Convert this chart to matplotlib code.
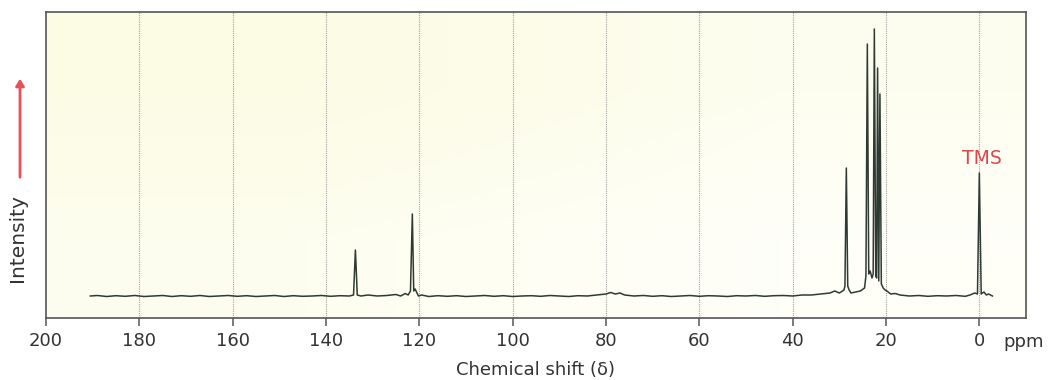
import matplotlib
matplotlib.use("Agg")
import matplotlib.pyplot as plt
import numpy as np

# 13C NMR spectrum (intensity in arbitrary units)
ppm = [190.5, 189, 187, 185, 183, 181, 179, 177, 175, 173, 171, 169, 167, 165,
       163, 161, 159, 157, 155, 153, 151, 149, 147, 145, 143, 141, 139, 137,
       135, 134.1, 133.7, 133.3, 132.5, 131, 129, 127, 125, 124, 123, 122.4,
       121.9, 121.5, 121.2, 120.9, 120.6, 120.2, 119.5, 118, 116, 114, 112,
       110, 108, 106, 104, 102, 100, 98, 96, 94, 92, 90, 88, 86, 84, 82, 80,
       79, 78, 77, 76, 74, 72, 70, 68, 66, 64, 62, 60, 58, 56, 54, 52, 50, 48,
       46, 44, 42, 40, 38, 36, 34, 32, 31, 30, 29, 28.8, 28.5, 28.2, 27.9,
       27.5, 26.5, 25.5, 24.6, 24.3, 24.0, 23.7, 23.4, 23.0, 22.75, 22.5,
       22.2, 22.0, 21.8, 21.55, 21.3, 21.0, 20.6, 20.2, 19.8, 19, 18, 17, 15,
       13, 11, 9, 7, 5, 3, 2, 1, 0.4, 0, -0.4, -1, -1.5, -2, -2.8]
intensity = [0, 0.5, -0.5, 0.3, -0.3, 0.5, -0.5, 0, 0.5, -0.5, 0.3, -0.3, 0.5, -0.5,
             0, 0.5, -0.3, 0.3, -0.5, 0, 0.5, -0.5, 0.3, -0.3, 0, 0.5, -0.3, 0.3,
             0, 1, 46, 1, 0, 1, 0, 0.5, 1.5, 0, 2.5, 1,
             5, 82, 5, 7, 4, 0, 1, -0.5, 0.3, -0.3, 0.3,
             -0.5, 0, 0.5, -0.3, 0.3, -0.5, 0, 0.3, -0.3, 0.5, 0, -0.5, 0.3, 0, 1, 2,
             3.5, 2, 3, 1, 0, 0.5, -0.3, 0.3, -0.5, 0, 0.5, -0.3, 0.3, 0, -0.5, 0.3, 0, 0.5,
             -0.3, 0.3, 0.5, 0, 1, 1, 2, 3, 5, 3, 6, 10, 128, 10, 6,
             3, 4, 5, 8, 20, 252, 22, 25, 18, 22, 267,
             20, 18, 228, 15, 202, 12, 8, 6, 5, 2, 2.5, 1, 0,
             0.5, -0.3, 0.3, 0, 0.5, -0.3, 1, 3, 2, 123, 2, 4, 1, 2, 0]

xticks = [200, 180, 160, 140, 120, 100, 80, 60, 40, 20, 0]
grid_at = [180, 160, 140, 120, 100, 80, 60, 40, 20, 0]

fig = plt.figure(figsize=(10.5, 3.8), dpi=100, facecolor="white")
ax = fig.add_axes([46 / 1050, 62 / 380, 980 / 1050, 306 / 380])

# pale cream wash fading toward white
grad = np.array([[[0.99, 0.985, 0.895], [0.995, 0.995, 0.94]],
                 [[0.995, 0.995, 0.94], [1.0, 1.0, 0.975]]])
ax.imshow(grad, extent=[0, 1, 0, 1], transform=ax.transAxes,
          interpolation="bilinear", aspect="auto", zorder=0)

for g in grid_at:
    ax.axvline(g, color="#a0a0a0", lw=0.8, ls=(0, (1, 1)), zorder=1)

ax.plot(ppm, intensity, color="#2e3a34", lw=1.1, zorder=3)

ax.set_xlim(200, -10)
ax.set_ylim(-22, 284)
ax.set_xticks(xticks)
ax.set_xticklabels([str(t) for t in xticks])
ax.set_yticks([])
ax.tick_params(axis="x", direction="out", length=6, width=1.1,
               color="#555555", labelsize=13, labelcolor="#333333", pad=4)
for s in ax.spines.values():
    s.set_color("#555555")
    s.set_linewidth(1.2)

ax.text(-0.6, 138, "TMS", color="#e0454c", fontsize=13.5,
        ha="center", va="center", zorder=4)

fig.text(1003 / 1050, 1 - 342 / 380, "ppm", fontsize=13, color="#333333",
         va="center", ha="left")
fig.text(536 / 1050, 1 - 370 / 380, "Chemical shift (\u03b4)", fontsize=13,
         color="#333333", ha="center", va="center")
fig.text(18 / 1050, 1 - 238 / 380, "Intensity", fontsize=14.5, color="#333333",
         rotation=90, ha="center", va="center")
fig.add_artist(matplotlib.patches.FancyArrowPatch(
    (20 / 1050, 1 - 180 / 380), (20 / 1050, 1 - 76 / 380),
    transform=fig.transFigure, arrowstyle="-|>,head_length=4,head_width=2.5",
    color="#e8505a", lw=2))

fig.savefig("out.png", dpi=100, facecolor="white")
